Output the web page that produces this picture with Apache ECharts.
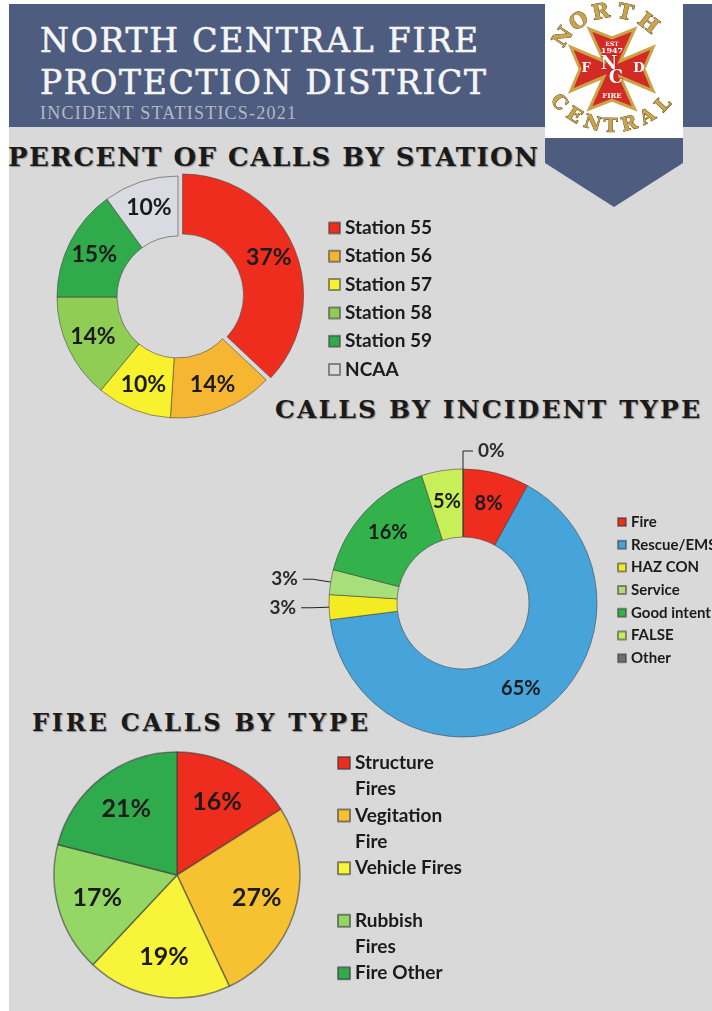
<!DOCTYPE html>
<html><head><meta charset="utf-8">
<script src="https://cdn.jsdelivr.net/npm/echarts@6/dist/echarts.min.js"></script>
<style>
html,body{margin:0;padding:0;width:712px;height:1011px;overflow:hidden;background:#fff;}
#bg{position:absolute;left:9px;top:4px;width:703px;height:1007px;background:#d9d9d9;}
#band{position:absolute;left:9px;top:4px;width:703px;height:123px;background:#4d5c7f;}
.t{position:absolute;white-space:nowrap;line-height:1;}
.sec{font-family:'DejaVu Serif';font-weight:bold;color:#1a1a1a;text-shadow:1px 1px 1px rgba(0,0,0,0.35);}
#chart{position:absolute;left:0;top:0;width:712px;height:1011px;}
</style></head><body>
<div id="bg"></div><div id="band"></div>
<div class="t" data-w="438" data-x="40" data-cy="40" data-k="0.48" style="font-family:'DejaVu Serif';font-size:33px;color:#f5f5f5;-webkit-text-stroke:0.6px #f5f5f5">NORTH CENTRAL FIRE</div>
<div class="t" data-w="446" data-x="40" data-cy="82" data-k="0.48" style="font-family:'DejaVu Serif';font-size:33px;color:#f5f5f5;-webkit-text-stroke:0.6px #f5f5f5">PROTECTION DISTRICT</div>
<div class="t" data-w="256" data-x="40" data-cy="113" data-k="0.5" style="font-family:'Liberation Serif';font-size:18px;color:#b4b8c6">INCIDENT STATISTICS-2021</div>
<div class="t sec" data-w="530" data-x="8" data-cy="156" data-k="0.48" style="font-size:26px">PERCENT OF CALLS BY STATION</div>
<div class="t sec" data-w="425" data-x="275" data-cy="409" data-k="0.48" style="font-size:25px">CALLS BY INCIDENT TYPE</div>
<div class="t sec" data-w="336" data-x="32" data-cy="723" data-k="0.48" style="font-size:24px">FIRE CALLS BY TYPE</div>
<div id="chart"></div>
<script>
// ---- data ----
const stationNames = ['Station 55','Station 56','Station 57','Station 58','Station 59','NCAA'];
const stationValues = [37, 14, 10, 14, 15, 10];

const incidentNames = ['Fire','Rescue/EMS','HAZ CON','Service','Good intent','FALSE','Other'];
const incidentValues = [8, 65, 3, 3, 16, 5, 0];

const fireNames = ['Structure Fires','Vegitation Fire','Vehicle Fires','Rubbish Fires','Fire Other'];
const fireValues = [16, 27, 19, 17, 21];

// ---- styles ----
const stationColors = ['#ee2d1f','#f6b631','#f8f12d','#8fcd55','#2fab4c','#d9dae2'];
const incidentColors = ['#ee2d1f','#47a4db','#f4ec22','#a6df7b','#33b14b','#c8ee5a','#6d6d78'];
const fireColors = ['#ee2d1f','#f6c232','#f8f43a','#94d765','#2fab4e'];
const outsideIncident = ['HAZ CON','Service','Other'];
const NB = '\u00a0';
const fireLegendText = {
  'Structure Fires': NB + '\nStructure\nFires',
  'Vegitation Fire': NB + '\nVegitation\nFire',
  'Vehicle Fires': NB + '\nVehicle Fires\n' + NB,
  'Rubbish Fires': NB + '\nRubbish\nFires',
  'Fire Other': NB + '\nFire Other\n' + NB
};

// fit header text widths
document.querySelectorAll('.t').forEach(el => {
  const n = el.textContent.length;
  const w = el.getBoundingClientRect().width;
  const ls = (+el.dataset.w - w) / (n - 1);
  el.style.letterSpacing = ls + 'px';
  el.style.left = el.dataset.x + 'px';
  const fs = parseFloat(getComputedStyle(el).fontSize);
  el.style.top = (+el.dataset.cy - (+el.dataset.k) * fs) + 'px';
});

// logo decoration
const LX = 612, LY = 69;
const crossPts = [[-8,-8],[-22,-40],[0,-31],[22,-40],[8,-8],[40,-22],[31,0],[40,22],[8,8],[22,40],[0,31],[-22,40],[-8,8],[-40,22],[-31,0],[-40,-22]]
  .map(p => [LX + p[0]*1.03, LY + p[1]*1.0]);
const gold = '#c9a449';
const logo = [
  {type:'polygon', shape:{points:[[545,127],[683,127],[683,163],[614,207],[545,163]]}, style:{fill:'#4d5c7f'}},
  {type:'rect', shape:{x:545,y:0,width:138,height:138}, style:{fill:'#ffffff'}},
  {type:'polygon', shape:{points:crossPts}, style:{fill:'#d42a25', stroke:gold, lineWidth:3}},
  {type:'text', x:LX, y:44, style:{text:'EST', fill:'#fff', font:'bold 6px "DejaVu Serif"', align:'center', verticalAlign:'middle'}},
  {type:'text', x:LX, y:51, style:{text:'1947', fill:'#fff', font:'bold 8px "DejaVu Serif"', align:'center', verticalAlign:'middle'}},
  {type:'text', x:LX-26, y:LY, style:{text:'F', fill:'#fff', font:'bold 13px "DejaVu Serif"', align:'center', verticalAlign:'middle'}},
  {type:'text', x:LX+27, y:LY, style:{text:'D', fill:'#fff', font:'bold 13px "DejaVu Serif"', align:'center', verticalAlign:'middle'}},
  {type:'text', x:LX-3, y:LY-5, style:{text:'N', fill:'#fff', stroke:'#7a1010', lineWidth:0.6, font:'bold 18px "DejaVu Serif"', align:'center', verticalAlign:'middle'}},
  {type:'text', x:LX+4, y:LY+9, style:{text:'C', fill:'#fff', stroke:'#7a1010', lineWidth:0.6, font:'bold 18px "DejaVu Serif"', align:'center', verticalAlign:'middle'}},
  {type:'text', x:LX, y:LY+27, style:{text:'FIRE', fill:'#fff', font:'bold 7px "DejaVu Serif"', align:'center', verticalAlign:'middle'}}
];
const northAngles = [-146,-124,-101,-77,-52];
'NORTH'.split('').forEach((ch,i) => {
  const a = northAngles[i]*Math.PI/180;
  logo.push({type:'text', x:612+58*Math.cos(a), y:70+58*Math.sin(a), rotation:-(northAngles[i]+90)*Math.PI/180,
    style:{text:ch, fill:gold, stroke:'#4a3818', lineWidth:0.8, font:'bold 21px "DejaVu Serif"', align:'center', verticalAlign:'middle'}});
});
const centralAngles = [138,122,106,91,76,60,44];
'CENTRAL'.split('').forEach((ch,i) => {
  const a = centralAngles[i]*Math.PI/180;
  logo.push({type:'text', x:612+72*Math.cos(a), y:55+72*Math.sin(a), rotation:-(centralAngles[i]-90)*Math.PI/180,
    style:{text:ch, fill:gold, stroke:'#4a3818', lineWidth:0.8, font:'bold 19px "DejaVu Serif"', align:'center', verticalAlign:'middle'}});
});

const chart = echarts.init(document.getElementById('chart'), null, {renderer:'canvas'});
const lblFont = {fontFamily:'Lato', fontWeight:'bold', color:'#1b1b1b'};
const edge = {borderColor:'rgba(60,60,60,0.55)', borderWidth:1};

chart.setOption({
  backgroundColor:'transparent',
  animation:false,
  graphic: logo,
  legend: [
    {data: stationNames, orient:'vertical', left:328, top:218, padding:0, itemWidth:11, itemHeight:11, itemGap:8.3,
     icon:'rect', selectedMode:false,
     textStyle:{fontFamily:'Lato', fontWeight:'bold', fontSize:19, lineHeight:20, color:'#1b1b1b'}},
    {data: incidentNames, orient:'vertical', left:617, top:513, padding:0, itemWidth:8, itemHeight:8, itemGap:4.7,
     icon:'rect', selectedMode:false,
     textStyle:{fontFamily:'Lato', fontWeight:'bold', fontSize:15, lineHeight:18, color:'#1b1b1b'}},
    {data: fireNames, orient:'vertical', left:337, top:723.5, height:400, padding:0, itemWidth:12, itemHeight:12, itemGap:-26.3,
     icon:'rect', selectedMode:false, formatter: n => fireLegendText[n],
     textStyle:{fontFamily:'Lato', fontWeight:'bold', fontSize:19, lineHeight:26.3, color:'#1b1b1b'}}
  ],
  series: [
    {type:'pie', center:[178,297], radius:[61,121], startAngle:90, selectedMode:'single', selectedOffset:5,
     itemStyle: edge, emphasis:{disabled:true},
     label:Object.assign({show:true, position:'inside', formatter:'{c}%', fontSize:23}, lblFont),
     data: stationNames.map((n,i) => ({name:n, value:stationValues[i], selected:i===0, itemStyle:{color:stationColors[i]}}))},
    {type:'pie', center:[463,603], radius:[66,134], startAngle:90,
     itemStyle: edge, emphasis:{disabled:true},
     label:Object.assign({show:true, position:'inside', formatter:'{c}%', fontSize:20}, lblFont),
     labelLine:{show:false},
     data: incidentNames.map((n,i) => {
       const d = {name:n, value:incidentValues[i], itemStyle:{color:incidentColors[i]}};
       if (outsideIncident.indexOf(n) >= 0) {
         d.label = {position:'outside', fontSize:19, color:'#2b2b2b'};
         d.labelLine = {show:true, length:18, length2:10, lineStyle:{color:'#222', width:1}};
       }
       return d;
     })},
    {type:'pie', center:[177,875], radius:[0,123], startAngle:90,
     itemStyle:{borderColor:'rgba(60,60,60,0.6)', borderWidth:1.5}, emphasis:{disabled:true},
     label:{show:false}, labelLine:{show:false},
     data: fireNames.map((n,i) => ({name:n, value:fireValues[i], itemStyle:{color:fireColors[i]}}))},
    {type:'pie', center:[177,875], radius:[37,123], startAngle:90, silent:true, legendHoverLink:false,
     itemStyle:{color:'rgba(0,0,0,0)', borderWidth:0}, emphasis:{disabled:true},
     label:Object.assign({show:true, position:'inside', formatter:'{c}%', fontSize:25}, lblFont),
     labelLine:{show:false},
     data: fireNames.map((n,i) => ({name:n, value:fireValues[i]}))}
  ]
});
</script>
</body></html>
